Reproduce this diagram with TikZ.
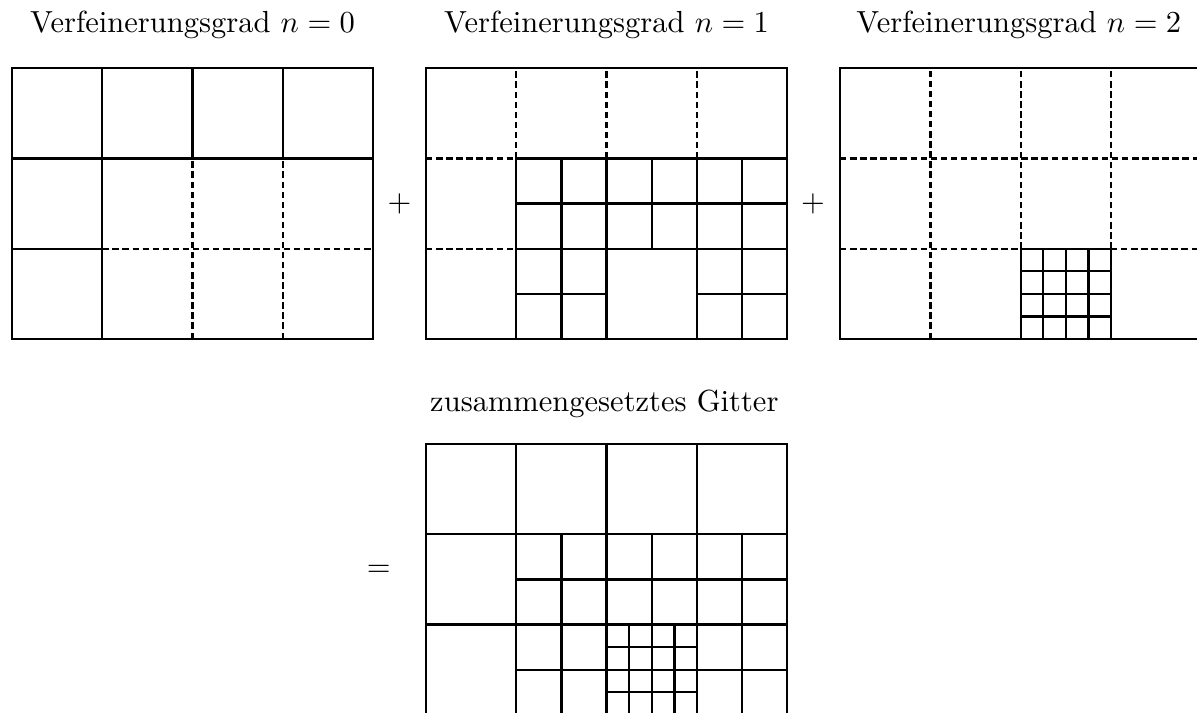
\documentclass[tikz,border=0pt]{standalone}
\usepackage{tikz}
\usetikzlibrary{positioning}
\usepackage{amsmath}
\tikzset{
  gline/.style={line width=0.75pt, line cap=rect},
  hline/.style={line width=0.75pt, dash pattern=on 2.1pt off 1.2pt},
  titel/.style={inner sep=0pt, font=\normalsize},
  opnode/.style={inner sep=0pt, font=\normalsize},
}

\begin{document}
\begin{tikzpicture}[x=1.04cm, y=1.04cm]
  \useasboundingbox (-0.133,-4.142) rectangle (13.123,3.754);

  % Verfeinerungsgrad 0
  \begin{scope}
    \draw[gline] (0,0) rectangle (4,3);
    \draw[gline] (0,2) -- (4,2) (1,0) -- (1,3) (2,2) -- (2,3) (3,2) -- (3,3) (0,1) -- (1,1);
    \draw[hline] (1,1) -- (4,1) (2,0) -- (2,2) (3,0) -- (3,2);
  \end{scope}
  \node[titel, anchor=base] (t0) at (2,3.389) {Verfeinerungsgrad $n=0$};

  % Verfeinerungsgrad 1
  \begin{scope}[xshift=4.585*1.04cm]
    \draw[gline] (0,0) rectangle (4,3);
    \draw[hline] (1,2) -- (1,3) (2,2) -- (2,3) (3,2) -- (3,3) (0,2) -- (1,2) (0,1) -- (1,1);
    \draw[gline] (1,0) -- (1,2) -- (4,2) (2,0) -- (2,2) (3,0) -- (3,2) (1,1) -- (4,1);
    \foreach \x in {1.5,2.5,3.5}
      \draw[gline] (\x,1) -- (\x,2);
    \draw[gline] (1,1.5) -- (4,1.5) (1.5,0) -- (1.5,1) (3.5,0) -- (3.5,1)
      (1,0.5) -- (2,0.5) (3,0.5) -- (4,0.5);
  \end{scope}
  \node[titel, anchor=base] (t1) at (6.585,3.389) {Verfeinerungsgrad $n=1$};

  % Verfeinerungsgrad 2
  \begin{scope}[xshift=9.17*1.04cm]
    \draw[gline] (0,0) rectangle (4,3);
    \draw[hline] (0,2) -- (4,2) (0,1) -- (2,1) (3,1) -- (4,1)
      (1,0) -- (1,3) (2,1) -- (2,3) (3,1) -- (3,3);
    \draw[gline] (2,0) rectangle (3,1);
    \foreach \t in {0.25,0.5,0.75}
      \draw[gline] (2+\t,0) -- (2+\t,1) (2,\t) -- (3,\t);
  \end{scope}
  \node[titel, anchor=base] (t2) at (11.15,3.389) {Verfeinerungsgrad $n=2$};

  \node[opnode] (plus1) at (4.29,1.5) {$+$};
  \node[opnode] (plus2) at (8.87,1.5) {$+$};

  % zusammengesetztes Gitter
  \begin{scope}[xshift=4.585*1.04cm, yshift=-4.163*1.04cm]
    \draw[gline] (0,0) rectangle (4,3);
    \foreach \x in {1,2,3}
      \draw[gline] (\x,0) -- (\x,3);
    \draw[gline] (0,1) -- (4,1) (0,2) -- (4,2);
    \foreach \x in {1.5,2.5,3.5}
      \draw[gline] (\x,1) -- (\x,2);
    \draw[gline] (1,1.5) -- (4,1.5) (1.5,0) -- (1.5,1) (3.5,0) -- (3.5,1) (1,0.5) -- (4,0.5);
    \foreach \t in {0.25,0.75}
      \draw[gline] (2+\t,0) -- (2+\t,1) (2,\t) -- (3,\t);
    \draw[gline] (2.5,0) -- (2.5,1);
  \end{scope}
  \node[titel, anchor=base] (tz) at (6.56,-0.808) {zusammengesetztes Gitter};
  \node[opnode] (gleich) at (4.06,-2.57) {$=$};
\end{tikzpicture}
\end{document}
